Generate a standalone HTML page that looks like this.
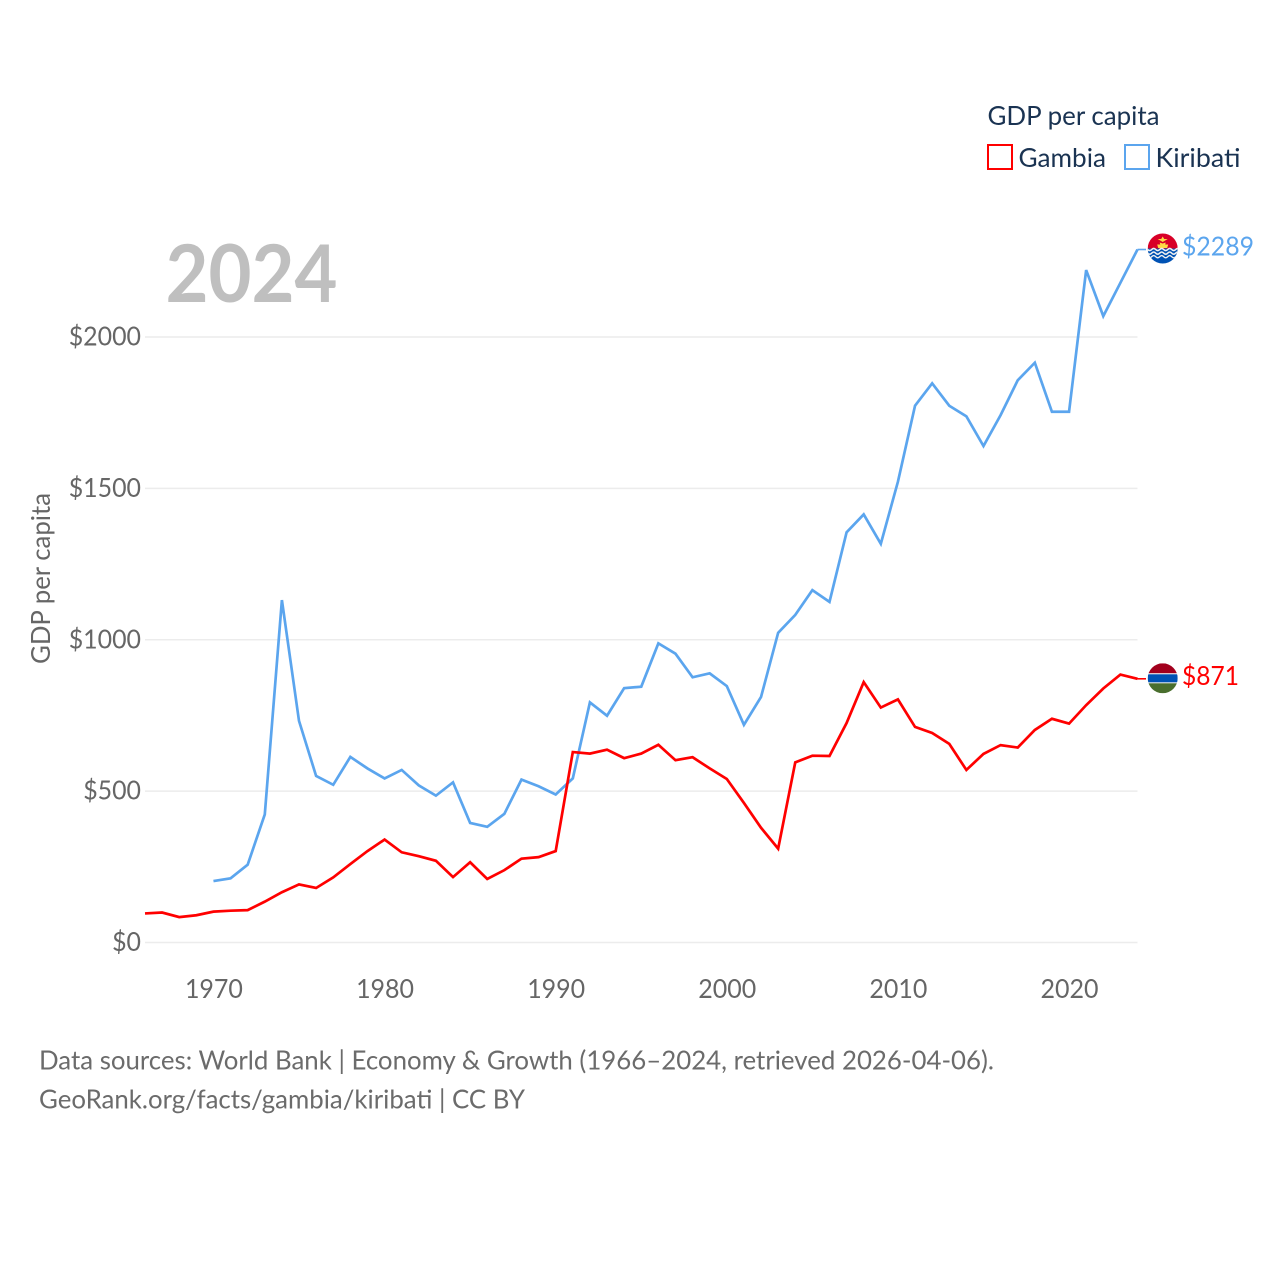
<!DOCTYPE html>
<html lang="en">
<head>
<meta charset="utf-8">
<title>GDP per capita: Gambia and Kiribati</title>
<style>
html,body{margin:0;padding:0;background:#fff;}
svg{display:block;}
text{font-family:"Lato","Carlito","Liberation Sans",sans-serif;}
</style>
</head>
<body>
<svg id="chart" xmlns="http://www.w3.org/2000/svg" width="1280" height="1280" viewBox="0 0 1280 1280">
  <defs>
    <clipPath id="flag-clip"><circle cx="0" cy="0" r="15"/></clipPath>
  </defs>
  <g id="grid"></g>
  <g id="y-labels"></g>
  <g id="x-labels"></g>
  <g id="series"></g>

  <text x="165.5" y="302" font-size="80" font-weight="700" fill="#bfbfbf" textLength="172" lengthAdjust="spacingAndGlyphs">2024</text>
  <text transform="translate(50,664) rotate(-90)" font-size="26" fill="#666666" textLength="171" lengthAdjust="spacingAndGlyphs">GDP per capita</text>

  <g>
    <text x="987.5" y="125" font-size="26" fill="#1a3352" textLength="172" lengthAdjust="spacingAndGlyphs">GDP per capita</text>
    <g>
      <rect x="988" y="145" width="24" height="24" fill="none" stroke="#ff0000" stroke-width="2"/>
      <text x="1018.5" y="167" font-size="26" fill="#1a3352" textLength="87.5" lengthAdjust="spacingAndGlyphs">Gambia</text>
    </g>
    <g>
      <rect x="1125" y="145" width="24" height="24" fill="none" stroke="#5ba5ee" stroke-width="2"/>
      <text x="1155.5" y="167" font-size="26" fill="#1a3352" textLength="85" lengthAdjust="spacingAndGlyphs">Kiribati</text>
    </g>
  </g>

  <g id="flag-kiribati">
    <g clip-path="url(#flag-clip)">
      <rect x="-15" y="-15" width="30" height="15" fill="#d80027"/>
      <rect x="-15" y="0" width="30" height="15" fill="#0052b4"/>
      <polygon points="-4.5,-0.5 -5.5,-4 -2.5,-4 -3,-6 0,-5 3,-6 2.5,-4 5.5,-4 4.5,-0.5" fill="#ffda44"/>
      <polygon points="-5,-9.5 -1.5,-9.5 0,-12 1.5,-9.5 5,-9.5 0,-6.5" fill="#ffda44"/>
      <path d="M-15 1 q2 2.2 4 0 t4 0 t4 0 t4 0 t4 0 t4 0 t4 0 t4 0" fill="none" stroke="#f0f0f0" stroke-width="1.6"/>
      <path d="M-15 4.6 q2 2.2 4 0 t4 0 t4 0 t4 0 t4 0 t4 0 t4 0 t4 0" fill="none" stroke="#f0f0f0" stroke-width="1.6"/>
      <path d="M-15 8.2 q2 2.2 4 0 t4 0 t4 0 t4 0 t4 0 t4 0 t4 0 t4 0" fill="none" stroke="#f0f0f0" stroke-width="1.4"/>
    </g>
  </g>
  <g id="flag-gambia">
    <g clip-path="url(#flag-clip)">
      <rect x="-15" y="-15" width="30" height="10" fill="#a2001d"/>
      <rect x="-15" y="-5" width="30" height="10" fill="#f0f0f0"/>
      <rect x="-15" y="-4" width="30" height="8" fill="#0052b4"/>
      <rect x="-15" y="5" width="30" height="10" fill="#496e2d"/>
    </g>
  </g>

  <text id="value-kiribati" x="1182" font-size="26" fill="#5ba5ee" textLength="72" lengthAdjust="spacingAndGlyphs"></text>
  <text id="value-gambia" x="1182" font-size="26" fill="#ff0000" textLength="57" lengthAdjust="spacingAndGlyphs"></text>

  <text x="39" y="1069.5" font-size="26" fill="#6b6b6b" textLength="955" lengthAdjust="spacingAndGlyphs">Data sources: World Bank | Economy &amp; Growth (1966–2024, retrieved 2026-04-06).</text>
  <text x="39" y="1108.5" font-size="26" fill="#6b6b6b" textLength="486" lengthAdjust="spacingAndGlyphs">GeoRank.org/facts/gambia/kiribati | CC BY</text>
</svg>
<script>
const years = [1966,1967,1968,1969,1970,1971,1972,1973,1974,1975,1976,1977,1978,1979,1980,1981,1982,1983,1984,1985,1986,1987,1988,1989,1990,1991,1992,1993,1994,1995,1996,1997,1998,1999,2000,2001,2002,2003,2004,2005,2006,2007,2008,2009,2010,2011,2012,2013,2014,2015,2016,2017,2018,2019,2020,2021,2022,2023,2024];
const gambia = [96,99,84,90,102,105,107,135,166,192,180,215,259,302,340,298,285,270,216,265,210,239,277,282,302,629,624,637,609,624,653,602,612,575,540,461,379,310,595,617,616,725,860,776,803,712,692,656,570,623,652,644,702,739,723,784,839,885,871];
const kiribati = [null,null,null,null,203,212,257,423,1131,732,550,521,613,575,542,570,519,485,529,395,382,425,538,516,489,542,793,749,840,845,988,954,876,889,847,719,811,1023,1082,1164,1125,1355,1414,1317,1522,1773,1847,1773,1738,1640,1742,1857,1915,1753,1753,2221,2069,2179,2289];
const yTicks = [0,500,1000,1500,2000];
const xTicks = [1970,1980,1990,2000,2010,2020];

const NS = 'http://www.w3.org/2000/svg';
const xScale = v => 145 + (v - 1966) * (1137.5 - 145) / (2024 - 1966);
const yScale = v => 942.5 - v * (942.5 - 337) / 2000;

function make(tag, parent) {
  const el = document.createElementNS(NS, tag);
  parent.appendChild(el);
  return el;
}

const gridGroup = document.getElementById('grid');
const yLabelGroup = document.getElementById('y-labels');
yTicks.forEach(t => {
  const line = make('line', gridGroup);
  
  
  line.setAttribute('x1', 145);
  line.setAttribute('x2', 1137.5);
  line.setAttribute('y1', yScale(t));
  line.setAttribute('y2', yScale(t));
  line.setAttribute('stroke', '#ececec');
  line.setAttribute('stroke-width', 1.4);
  const label = make('text', yLabelGroup);
  const text = '$' + t;
  
  
  label.setAttribute('x', 141);
  label.setAttribute('y', yScale(t) + 8.5);
  label.setAttribute('text-anchor', 'end');
  label.setAttribute('font-size', 26);
  label.setAttribute('fill', '#666666');
  label.setAttribute('textLength', (text.length * 14.45).toFixed(1));
  label.setAttribute('lengthAdjust', 'spacingAndGlyphs');
  label.textContent = text;
});

const xLabelGroup = document.getElementById('x-labels');
xTicks.forEach(t => {
  const label = make('text', xLabelGroup);
  
  
  label.setAttribute('x', xScale(t) + 0.5);
  label.setAttribute('y', 998);
  label.setAttribute('text-anchor', 'middle');
  label.setAttribute('font-size', 26);
  label.setAttribute('fill', '#666666');
  label.setAttribute('textLength', 58);
  label.setAttribute('lengthAdjust', 'spacingAndGlyphs');
  label.textContent = t;
});

function linePoints(values) {
  const pts = [];
  values.forEach((v, i) => {
    if (v !== null) pts.push(xScale(years[i]).toFixed(2) + ',' + yScale(v).toFixed(2));
  });
  return pts.join(' ');
}

const seriesGroup = document.getElementById('series');

const kiribatiLine = make('polyline', seriesGroup);


kiribatiLine.setAttribute('points', linePoints(kiribati));
kiribatiLine.setAttribute('fill', 'none');
kiribatiLine.setAttribute('stroke', '#5ba5ee');
kiribatiLine.setAttribute('stroke-width', 2.7);
kiribatiLine.setAttribute('stroke-linejoin', 'miter');

const gambiaLine = make('polyline', seriesGroup);


gambiaLine.setAttribute('points', linePoints(gambia));
gambiaLine.setAttribute('fill', 'none');
gambiaLine.setAttribute('stroke', '#ff0000');
gambiaLine.setAttribute('stroke-width', 2.7);
gambiaLine.setAttribute('stroke-linejoin', 'miter');

const lastK = kiribati[kiribati.length - 1];
const lastG = gambia[gambia.length - 1];

const leaderK = make('line', seriesGroup);


leaderK.setAttribute('x1', xScale(2024));
leaderK.setAttribute('x2', 1146);
leaderK.setAttribute('y1', yScale(lastK));
leaderK.setAttribute('y2', yScale(lastK));
leaderK.setAttribute('stroke', '#5ba5ee');
leaderK.setAttribute('stroke-width', 1.6);

const leaderG = make('line', seriesGroup);


leaderG.setAttribute('x1', xScale(2024));
leaderG.setAttribute('x2', 1146);
leaderG.setAttribute('y1', yScale(lastG));
leaderG.setAttribute('y2', yScale(lastG));
leaderG.setAttribute('stroke', '#ff0000');
leaderG.setAttribute('stroke-width', 1.6);

document.getElementById('flag-kiribati').setAttribute('transform', 'translate(1162.7,' + (yScale(lastK) - 1) + ')');
document.getElementById('flag-gambia').setAttribute('transform', 'translate(1162.7,' + (yScale(lastG) - 0.5) + ')');

const valueK = document.getElementById('value-kiribati');
valueK.setAttribute('y', yScale(lastK) + 6);
valueK.textContent = '$' + lastK;
const valueG = document.getElementById('value-gambia');
valueG.setAttribute('y', yScale(lastG) + 6);
valueG.textContent = '$' + lastG;
</script>
</body>
</html>
